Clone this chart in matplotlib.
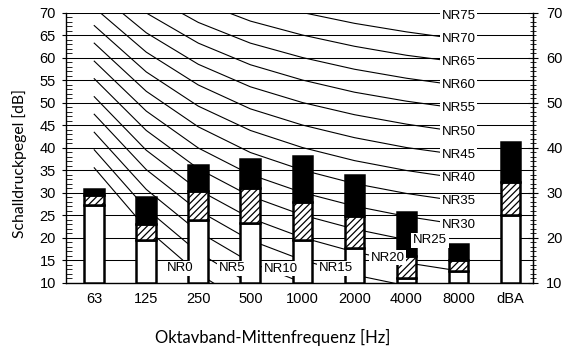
import numpy as np
import matplotlib.pyplot as plt
from matplotlib.ticker import MultipleLocator

# octave bands + A-weighted total
bands = ['63', '125', '250', '500', '1000', '2000', '4000', '8000', 'dBA']
base_level = 10
level_white = [27.3, 19.4, 23.9, 23.2, 19.5, 17.7, 11.1, 12.5, 25.0]
level_hatched = [29.5, 23.0, 30.4, 31.1, 28.0, 24.7, 15.8, 15.1, 32.4]
level_black = [30.9, 29.1, 36.1, 37.4, 38.2, 33.9, 25.6, 18.6, 41.3]

# NR curves (63 ... 8000 Hz)
nr_levels = [0, 5, 10, 15, 20, 25, 30, 35, 40, 45, 50, 55, 60, 65, 70, 75]
nr_values = [
    [35.5, 22.0, 12.0, 4.8, 0.0, -3.5, -6.1, -8.0],
    [39.5, 26.4, 16.7, 9.7, 5.0, 1.6, -1.0, -2.9],
    [43.4, 30.7, 21.3, 14.5, 10.0, 6.7, 4.2, 2.3],
    [47.4, 35.1, 26.0, 19.4, 15.0, 11.7, 9.3, 7.5],
    [51.3, 39.4, 30.6, 24.3, 20.0, 16.8, 14.4, 12.6],
    [55.3, 43.8, 35.3, 29.2, 25.0, 21.9, 19.5, 17.8],
    [59.2, 48.1, 39.9, 34.0, 30.0, 27.0, 24.7, 22.9],
    [63.2, 52.5, 44.6, 38.9, 35.0, 32.0, 29.8, 28.1],
    [67.1, 56.8, 49.2, 43.8, 40.0, 37.1, 34.9, 33.2],
    [71.1, 61.2, 53.9, 48.6, 45.0, 42.2, 40.0, 38.4],
    [75.0, 65.5, 58.5, 53.5, 50.0, 47.3, 45.2, 43.5],
    [79.0, 69.9, 63.2, 58.4, 55.0, 52.3, 50.3, 48.7],
    [82.9, 74.2, 67.8, 63.2, 60.0, 57.4, 55.4, 53.8],
    [86.9, 78.6, 72.5, 68.1, 65.0, 62.5, 60.5, 59.0],
    [90.8, 82.9, 77.1, 73.0, 70.0, 67.6, 65.7, 64.1],
    [94.8, 87.3, 81.8, 77.9, 75.0, 72.6, 70.8, 69.3],
]

# where the low NR labels sit (the rest go at the 8000 Hz end)
low_label_pos = {0: (1.65, 13.2), 5: (2.65, 13.2), 10: (3.58, 13.1),
                 15: (4.64, 13.2), 20: (5.64, 15.5), 25: (6.45, 19.4)}

plt.rcParams['hatch.linewidth'] = 0.9

fig = plt.figure(figsize=(5.67, 3.48), dpi=100)
ax = fig.add_axes([0.1157, 0.188, 0.8243, 0.776])

x = np.arange(len(bands))
x_nr = np.arange(len(nr_values[0]))

# NR curves
for nr, vals in zip(nr_levels, nr_values):
    ax.plot(x_nr, vals, color='black', linewidth=0.8, zorder=2)

# stacked bars
white = np.array(level_white)
hatched = np.array(level_hatched)
black = np.array(level_black)
bw = 0.38
ax.bar(x, white - base_level, bottom=base_level, width=bw, color='white',
       edgecolor='black', linewidth=1.8, zorder=3)
ax.bar(x, hatched - white, bottom=white, width=bw, color='white',
       edgecolor='black', hatch='/////', linewidth=1.8, zorder=3)
ax.bar(x, black - hatched, bottom=hatched, width=bw, color='black',
       edgecolor='black', linewidth=1.8, zorder=3)

# NR labels
box = dict(boxstyle='square,pad=0.12', facecolor='white', edgecolor='none')
for nr, vals in zip(nr_levels, nr_values):
    if nr in low_label_pos:
        lx, ly = low_label_pos[nr]
    else:
        lx, ly = x_nr[-1], vals[-1]
    ax.text(lx, ly, f'NR{nr}', ha='center', va='center', fontsize=9.5,
            family='Liberation Sans', bbox=box, zorder=5)

ax.set_xlim(-0.55, 8.43)
ax.set_ylim(10, 70)
ax.set_xticks(x)
ax.set_xticklabels(bands)
ax.yaxis.set_major_locator(MultipleLocator(5))
ax.yaxis.set_minor_locator(MultipleLocator(1))
ax.grid(axis='y', color='black', linewidth=0.75, zorder=1)
ax.set_axisbelow(True)

ax.tick_params(axis='x', length=0, pad=7, labelsize=10.5)
ax.tick_params(axis='y', which='major', direction='out', length=3, pad=4,
               labelsize=10.5)
ax.tick_params(axis='y', which='minor', direction='in', length=4)
for lbl in ax.get_xticklabels() + ax.get_yticklabels():
    lbl.set_family('Liberation Sans')

ax.spines['top'].set_visible(False)
for s in ['left', 'bottom', 'right']:
    ax.spines[s].set_linewidth(1.0)

# right axis with its own ticks
ax2 = ax.twinx()
ax2.set_ylim(10, 70)
ax2.yaxis.set_major_locator(MultipleLocator(10))
ax2.yaxis.set_minor_locator(MultipleLocator(1))
ax2.tick_params(axis='y', which='major', direction='inout', length=7, pad=6,
                labelsize=10.5)
ax2.tick_params(axis='y', which='minor', direction='inout', length=5)
for lbl in ax2.get_yticklabels():
    lbl.set_family('Liberation Sans')
for s in ['top', 'left', 'bottom']:
    ax2.spines[s].set_visible(False)

fig.text(20 / 567, 1 - 163.5 / 348, 'Schalldruckpegel [dB]', rotation=90,
         ha='center', va='center', fontsize=11.3, family='Lato')
fig.text(272.5 / 567, 1 - 343 / 348, 'Oktavband-Mittenfrequenz [Hz]',
         ha='center', va='baseline', fontsize=12, family='Lato')

fig.savefig('out.png', dpi=100, facecolor='white')
